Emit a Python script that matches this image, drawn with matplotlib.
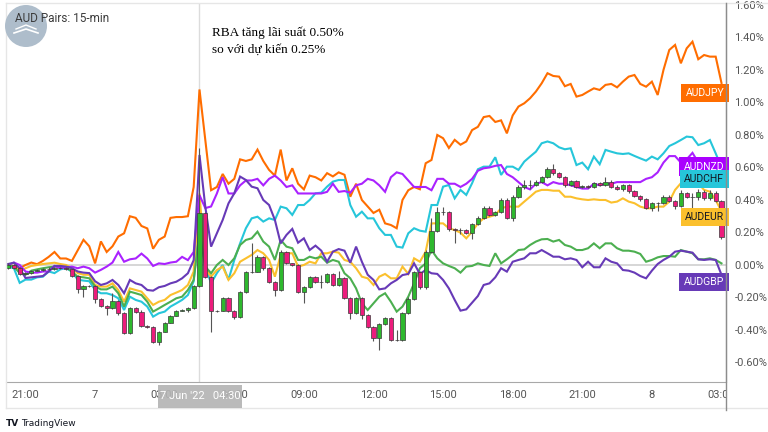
import numpy as np
import matplotlib
matplotlib.use("Agg")
import matplotlib.pyplot as plt
from matplotlib.patches import Circle, Rectangle
from matplotlib.lines import Line2D
from matplotlib.transforms import blended_transform_factory

# 15-min bars, bar 0 = 21:00 on 6 Jun, last bar = 03:00 on 8 Jun
bars = np.arange(-3, 121)

# AUDUSD candles (% change), open of each bar = close of the one before
usdFirstOpen = -0.02
usdClose = [
    0.0, -0.02, -0.055, -0.05, -0.035, -0.03, -0.025, -0.022, -0.02, -0.018,
    -0.027, -0.068, -0.15, -0.13, -0.13, -0.21, -0.25, -0.263, -0.22, -0.297,
    -0.42, -0.267, -0.287, -0.375, -0.38, -0.472, -0.41, -0.355, -0.312, -0.281,
    -0.277, -0.267, -0.13, 0.318, -0.072, -0.281, -0.281, -0.205, -0.281, -0.318,
    -0.164, -0.041, -0.041, 0.051, -0.021, -0.103, -0.154, 0.082, 0.01, 0.0,
    -0.164, -0.133, -0.072, -0.103, -0.103, -0.057, -0.123, -0.082, -0.205, -0.293,
    -0.205, -0.308, -0.379, -0.451, -0.363, -0.328, -0.462, -0.462, -0.297, -0.211,
    -0.041, -0.137, 0.082, 0.209, 0.324, 0.324, 0.219, 0.215, 0.215, 0.199,
    0.252, 0.287, 0.353, 0.308, 0.324, 0.40, 0.287, 0.42, 0.482, 0.49,
    0.49, 0.513, 0.54, 0.589, 0.564, 0.544, 0.492, 0.517, 0.482, 0.486,
    0.482, 0.503, 0.492, 0.513, 0.482, 0.466, 0.492, 0.455, 0.427, 0.404,
    0.353, 0.379, 0.384, 0.421, 0.396, 0.363, 0.441, 0.416, 0.42, 0.45,
    0.41, 0.445, 0.396, 0.17,
]
usdHigh = [
    0.01, 0.005, -0.015, -0.045, -0.03, -0.025, -0.02, -0.015, -0.012, -0.01,
    -0.012, -0.022, -0.06, -0.125, -0.125, -0.125, -0.205, -0.245, -0.174, -0.215,
    -0.29, -0.26, -0.26, -0.28, -0.37, -0.375, -0.405, -0.35, -0.305, -0.275,
    -0.27, -0.26, -0.125, 0.72, 0.325, -0.065, -0.275, -0.2, -0.2, -0.275,
    -0.16, -0.035, 0.133, 0.06, 0.055, -0.015, -0.1, 0.09, 0.085, 0.015,
    0.005, -0.13, -0.065, -0.065, -0.06, -0.05, -0.05, -0.04, -0.075, -0.2,
    -0.2, -0.2, -0.3, -0.375, -0.355, -0.32, -0.32, -0.40, -0.29, -0.2,
    -0.035, -0.035, 0.09, 0.287, 0.359, 0.359, 0.33, 0.225, 0.225, 0.22,
    0.26, 0.30, 0.36, 0.36, 0.33, 0.41, 0.41, 0.43, 0.49, 0.52,
    0.52, 0.52, 0.55, 0.60, 0.62, 0.575, 0.55, 0.525, 0.525, 0.495,
    0.49, 0.51, 0.51, 0.544, 0.52, 0.49, 0.50, 0.50, 0.46, 0.43,
    0.41, 0.39, 0.39, 0.43, 0.43, 0.40, 0.46, 0.45, 0.44, 0.47,
    0.46, 0.46, 0.455, 0.40,
]
usdLow = [
    -0.025, -0.025, -0.06, -0.06, -0.055, -0.04, -0.035, -0.03, -0.028, -0.026,
    -0.033, -0.075, -0.17, -0.195, -0.135, -0.236, -0.26, -0.31, -0.27, -0.305,
    -0.425, -0.425, -0.295, -0.38, -0.385, -0.48, -0.49, -0.415, -0.36, -0.315,
    -0.285, -0.29, -0.27, -0.135, -0.08, -0.41, -0.29, -0.285, -0.29, -0.33,
    -0.325, -0.17, -0.05, -0.045, -0.03, -0.11, -0.19, -0.16, 0.005, -0.005,
    -0.17, -0.236, -0.14, -0.11, -0.14, -0.11, -0.13, -0.13, -0.21, -0.33,
    -0.30, -0.33, -0.39, -0.47, -0.523, -0.37, -0.47, -0.47, -0.47, -0.30,
    -0.215, -0.15, -0.145, 0.075, 0.20, 0.31, 0.21, 0.137, 0.19, 0.19,
    0.16, 0.245, 0.28, 0.30, 0.30, 0.32, 0.28, 0.27, 0.415, 0.47,
    0.47, 0.485, 0.505, 0.535, 0.555, 0.535, 0.48, 0.485, 0.475, 0.475,
    0.475, 0.475, 0.485, 0.485, 0.475, 0.46, 0.455, 0.44, 0.42, 0.395,
    0.345, 0.33, 0.33, 0.375, 0.39, 0.345, 0.355, 0.41, 0.349, 0.40,
    0.40, 0.40, 0.39, 0.16,
]

# compared pairs (% change)
audjpy = [
    0.0, -0.01, -0.02, 0.0, 0.015, 0.005, 0.025, 0.05, 0.08, 0.04,
    0.04, 0.025, 0.09, 0.155, 0.115, 0.01, 0.145, 0.08, 0.115, 0.175,
    0.195, 0.30, 0.29, 0.24, 0.225, 0.10, 0.155, 0.175, 0.29, 0.295,
    0.295, 0.30, 0.48, 1.08, 0.77, 0.46, 0.48, 0.56, 0.50, 0.53,
    0.65, 0.64, 0.65, 0.71, 0.64, 0.585, 0.55, 0.71, 0.52, 0.595,
    0.50, 0.465, 0.55, 0.54, 0.52, 0.565, 0.545, 0.57, 0.555, 0.42,
    0.50, 0.40, 0.36, 0.32, 0.34, 0.256, 0.246, 0.226, 0.40, 0.46,
    0.48, 0.466, 0.626, 0.646, 0.80, 0.78, 0.72, 0.77, 0.74, 0.76,
    0.83, 0.85, 0.91, 0.917, 0.88, 0.89, 0.81, 0.92, 0.975, 0.995,
    1.026, 1.067, 1.118, 1.18, 1.163, 1.159, 1.10, 1.114, 1.036, 1.046,
    1.067, 1.087, 1.077, 1.108, 1.114, 1.093, 1.128, 1.159, 1.169, 1.114,
    1.097, 1.128, 1.046, 1.20, 1.323, 1.354, 1.241, 1.333, 1.374, 1.266,
    1.292, 1.282, 1.282, 1.12,
]
audnzd = [
    0.0, 0.015, 0.0, -0.04, -0.047, -0.047, -0.04, -0.04, -0.006, -0.02,
    -0.015, -0.01, -0.02, -0.01, -0.02, -0.047, -0.03, -0.01, 0.015, 0.08,
    0.02, 0.035, 0.04, 0.07, 0.04, -0.006, 0.01, 0.006, 0.015, 0.02,
    0.05, 0.03, 0.08, 0.43, 0.35, 0.36, 0.44, 0.54, 0.44, 0.44,
    0.49, 0.52, 0.52, 0.53, 0.49, 0.53, 0.55, 0.52, 0.48, 0.49,
    0.44, 0.44, 0.44, 0.44, 0.44, 0.45, 0.50, 0.45, 0.455, 0.445,
    0.49, 0.50, 0.53, 0.52, 0.49, 0.45, 0.54, 0.57, 0.56, 0.52,
    0.48, 0.48, 0.48, 0.46, 0.53, 0.53, 0.50, 0.50, 0.48, 0.50,
    0.53, 0.58, 0.595, 0.60, 0.61, 0.615, 0.56, 0.54, 0.51, 0.48,
    0.465, 0.50, 0.51, 0.49, 0.51, 0.50, 0.50, 0.49, 0.48, 0.47,
    0.47, 0.50, 0.49, 0.50, 0.50, 0.51, 0.51, 0.51, 0.51, 0.51,
    0.53, 0.54, 0.57, 0.63, 0.67, 0.67, 0.63, 0.65, 0.69, 0.63,
    0.64, 0.63, 0.63, 0.62,
]
audchf = [
    -0.01, -0.02, -0.11, -0.09, -0.09, -0.076, -0.072, -0.04, -0.05, -0.027,
    -0.02, -0.04, -0.09, -0.096, -0.10, -0.154, -0.174, -0.174, -0.185, -0.205,
    -0.277, -0.195, -0.215, -0.226, -0.256, -0.318, -0.297, -0.287, -0.256, -0.236,
    -0.215, -0.185, -0.10, 0.25, -0.01, -0.113, -0.05, 0.0, -0.09, 0.03,
    0.133, 0.226, 0.287, 0.297, 0.267, 0.287, 0.277, 0.359, 0.349, 0.308,
    0.369, 0.369, 0.40, 0.441, 0.445, 0.482, 0.513, 0.523, 0.523, 0.369,
    0.297, 0.328, 0.287, 0.287, 0.226, 0.185, 0.185, 0.113, 0.107, 0.195,
    0.226, 0.211, 0.205, 0.369, 0.369, 0.482, 0.492, 0.41, 0.462, 0.431,
    0.503, 0.589, 0.605, 0.605, 0.663, 0.554, 0.605, 0.605, 0.585, 0.636,
    0.667, 0.697, 0.749, 0.76, 0.749, 0.724, 0.712, 0.718, 0.615, 0.63,
    0.589, 0.667, 0.62, 0.708, 0.697, 0.687, 0.683, 0.687, 0.671, 0.656,
    0.642, 0.667, 0.65, 0.687, 0.732, 0.749, 0.769, 0.79, 0.786, 0.738,
    0.749, 0.769, 0.687, 0.60,
]
audeur = [
    0.0, -0.006, -0.04, -0.02, -0.006, 0.0, 0.006, 0.01, 0.014, 0.006,
    0.0, -0.02, -0.05, -0.06, -0.06, -0.123, -0.133, -0.133, -0.113, -0.154,
    -0.226, -0.144, -0.154, -0.164, -0.205, -0.246, -0.226, -0.215, -0.185, -0.17,
    -0.154, -0.123, -0.04, 0.44, -0.02, -0.072, -0.031, -0.01, -0.092, -0.051,
    0.02, 0.041, 0.062, 0.092, 0.072, 0.031, -0.072, 0.062, 0.072, 0.072,
    -0.01, 0.0, 0.02, 0.01, 0.072, 0.072, 0.082, 0.076, 0.031, 0.02,
    -0.02, -0.072, -0.082, -0.123, -0.072, -0.055, -0.082, -0.082, -0.01, -0.055,
    0.041, 0.02, 0.082, 0.256, 0.256, 0.256, 0.226, 0.215, 0.199, 0.164,
    0.205, 0.256, 0.287, 0.297, 0.308, 0.349, 0.359, 0.359, 0.359, 0.39,
    0.42, 0.451, 0.462, 0.462, 0.457, 0.457, 0.42, 0.42, 0.41, 0.404,
    0.40, 0.404, 0.40, 0.40, 0.384, 0.39, 0.41, 0.39, 0.38, 0.359,
    0.349, 0.349, 0.359, 0.359, 0.39, 0.462, 0.503, 0.503, 0.503, 0.503,
    0.462, 0.451, 0.40, 0.33,
]
# green pair, its label is hidden in the picture
greenPair = [
    0.0, -0.01, -0.05, -0.06, -0.035, -0.027, -0.02, -0.014, -0.01, -0.01,
    -0.014, -0.04, -0.072, -0.076, -0.082, -0.133, -0.15, -0.15, -0.133, -0.174,
    -0.256, -0.164, -0.174, -0.185, -0.226, -0.287, -0.267, -0.246, -0.226, -0.205,
    -0.195, -0.154, -0.092, 0.20, -0.01, -0.051, 0.0, 0.031, 0.0, 0.041,
    0.123, 0.154, 0.164, 0.205, 0.144, 0.113, 0.031, 0.154, 0.113, 0.103,
    0.031, 0.031, 0.051, 0.041, 0.051, 0.014, 0.031, 0.02, -0.051, -0.082,
    -0.144, -0.236, -0.277, -0.236, -0.195, -0.174, -0.226, -0.287, -0.256, -0.195,
    -0.113, -0.02, 0.01, 0.092, 0.041, 0.01, -0.006, -0.02, -0.047, -0.01,
    -0.006, 0.01, 0.0, -0.006, 0.072, 0.01, 0.035, 0.062, 0.092, 0.096,
    0.123, 0.144, 0.158, 0.16, 0.144, 0.154, 0.123, 0.113, 0.092, 0.092,
    0.103, 0.133, 0.103, 0.133, 0.133, 0.103, 0.088, 0.088, 0.082, 0.068,
    0.02, 0.031, 0.047, 0.055, 0.055, 0.051, 0.092, 0.082, 0.072, 0.035,
    0.035, 0.041, 0.031, 0.01,
]
audgbp = [
    0.006, 0.014, -0.02, -0.08, -0.076, -0.072, -0.068, -0.04, -0.006, -0.006,
    -0.01, -0.02, -0.04, -0.047, -0.05, -0.10, -0.123, -0.113, -0.092, -0.123,
    -0.174, -0.092, -0.113, -0.123, -0.154, -0.158, -0.137, -0.129, -0.113, -0.103,
    -0.082, -0.051, 0.03, 0.677, 0.36, 0.113, 0.195, 0.277, 0.379, 0.441,
    0.544, 0.523, 0.482, 0.472, 0.40, 0.369, 0.277, 0.133, 0.185, 0.222,
    0.137, 0.164, 0.092, 0.119, 0.088, 0.02, 0.082, 0.098, 0.088, 0.014,
    0.113, 0.02, -0.06, -0.092, -0.15, -0.144, -0.113, -0.092, -0.062, -0.055,
    0.01, -0.055, -0.031, -0.051, -0.055, -0.092, -0.144, -0.215, -0.281, -0.273,
    -0.232, -0.191, -0.123, -0.113, -0.076, -0.02, -0.041, 0.02, 0.031, 0.041,
    0.072, 0.072, 0.092, 0.072, 0.051, 0.051, 0.035, 0.041, 0.031, -0.014,
    0.02, -0.014, -0.014, 0.041, 0.02, 0.01, -0.031, -0.035, -0.047, -0.068,
    -0.082, -0.035, 0.006, 0.031, 0.051, 0.082, 0.088, 0.082, 0.076, 0.035,
    0.031, 0.035, 0.031, -0.06,
]

# label name, label position (%), box colour, text colour
pairLabels = [
    ("AUDJPY", 1.058, "#ff6d00", "white"),
    ("AUDNZD", 0.605, "#aa00ff", "white"),
    ("AUDCHF", 0.529, "#26c6da", "#131722"),
    ("AUDEUR", 0.295, "#fbc02d", "#131722"),
    ("AUDGBP", -0.105, "#673ab7", "white"),
]

tickBars = [0, 12, 24, 36, 48, 60, 72, 84, 96, 108, 120]
tickNames = ["21:00", "7", "03:00", "06:00", "09:00", "12:00", "15:00",
             "18:00", "21:00", "8", "03:00"]
yTicks = [-0.6, -0.4, -0.2, 0.0, 0.2, 0.4, 0.6, 0.8, 1.0, 1.2, 1.4, 1.6]

narrow = ["Liberation Sans Narrow", "Roboto", "DejaVu Sans"]
W, H = 768, 432

fig = plt.figure(figsize=(7.68, 4.32), dpi=100)
fig.patch.set_facecolor("white")
ax = fig.add_axes([6 / W, 1 - 382 / H, 720 / W, 379 / H])
ax.set_xlim(-3.36, 120.78)
ax.set_ylim(-0.72, 1.612)

ax.axhline(0, color="#cfcfcf", lw=1.2, zorder=1)
ax.axvline(30, color="#dcdcdc", lw=1.0, zorder=1)

lineStyle = [
    (audjpy, "#ff6d00"),
    (audchf, "#26c6da"),
    (audeur, "#fbc02d"),
    (greenPair, "#4caf50"),
    (audnzd, "#aa22ff"),
    (audgbp, "#673ab7"),
]
for vals, col in lineStyle:
    ax.plot(bars, vals, color=col, lw=1.5, zorder=2, solid_joinstyle="miter")

# candles
usdClose = np.array(usdClose)
usdOpen = np.concatenate([[usdFirstOpen], usdClose[:-1]])
upColor, downColor = "#2eb82e", "#ec1c7c"
colors = [upColor if c >= o else downColor for o, c in zip(usdOpen, usdClose)]
ax.vlines(bars, usdLow, usdHigh, color="#555555", lw=0.8, zorder=3)
ax.bar(bars, usdClose - usdOpen, bottom=usdOpen, width=0.72, color=colors,
       edgecolor="#3a3a3a", linewidth=0.5, zorder=4)

# right side labels
trans = blended_transform_factory(ax.transAxes, ax.transData)
for name, yPos, boxCol, txtCol in pairLabels:
    ax.text(0.9975, yPos, name, transform=trans, ha="right", va="center",
            fontsize=7.5, family=narrow, color=txtCol, zorder=6,
            bbox=dict(boxstyle="square,pad=0.42", fc=boxCol, ec="none"))

# axes styling
for side in ["left", "top"]:
    ax.spines[side].set_visible(False)
ax.spines["right"].set_color("#8c8c8c")
ax.spines["bottom"].set_color("#a8a8a8")
ax.yaxis.tick_right()
ax.set_yticks(yTicks)
ax.set_yticklabels([f"{v:.2f}%" for v in yTicks])
ax.set_xticks(tickBars)
ax.set_xticklabels(tickNames)
ax.tick_params(axis="both", length=0, labelsize=8, labelcolor="#555555")
ax.tick_params(axis="y", pad=6)
ax.tick_params(axis="x", pad=6)
for lab in ax.get_xticklabels() + ax.get_yticklabels():
    lab.set_family(narrow)

# frame lines around the chart
def pixLine(x0, y0, x1, y1, col, lw=1.0):
    fig.add_artist(Line2D([x0 / W, x1 / W], [1 - y0 / H, 1 - y1 / H],
                          color=col, lw=lw, zorder=8))

pixLine(6, 3, 6, 408, "#e6e6e6")
pixLine(6, 3, 768, 3, "#e6e6e6")
pixLine(6, 408, 768, 408, "#e6e6e6")
# price scale hides the last time label
fig.add_artist(Rectangle((726.5 / W, 1 - 407 / H), 41 / W, 24 / H,
                         transform=fig.transFigure, fc="white", ec="none", zorder=7))
pixLine(726, 3, 726, 410, "#8c8c8c")

# date label under the crosshair
fig.add_artist(Rectangle((158 / W, 1 - 408 / H), 84 / W, 23 / H,
                         transform=fig.transFigure, fc="#b4b4b4", ec="none",
                         alpha=0.92, zorder=9))
fig.text(200 / W, 1 - 396 / H, "7 Jun '22   04:30", ha="center", va="center",
         fontsize=8, family=narrow, color="white", zorder=10)

# logo (drawn in inches so it stays round) and title
fig.add_artist(Circle((0.26, 4.32 - 0.26), 0.21, transform=fig.dpi_scale_trans,
                      fc="#aebdcb", ec="none", zorder=9))
fig.add_artist(Line2D([14 / W, 26 / W, 38 / W], [1 - 33 / H, 1 - 29 / H, 1 - 33 / H],
                      color="white", lw=1.2, zorder=10))
fig.add_artist(Line2D([16 / W, 26 / W, 36 / W], [1 - 29 / H, 1 - 25 / H, 1 - 29 / H],
                      color="white", lw=1.0, zorder=10))
fig.text(15 / W, 1 - 19 / H, "AUD Pairs: 15-min", fontsize=8.5, family=narrow,
         color="#3c3c3c", va="center", zorder=11)

serif = ["Liberation Serif", "DejaVu Serif"]
fig.text(212 / W, 1 - 33 / H, "RBA tăng lãi suất 0.50%", fontsize=9.5,
         family=serif, color="black", va="center", zorder=11)
fig.text(212 / W, 1 - 50 / H, "so với dự kiến 0.25%", fontsize=9.5,
         family=serif, color="black", va="center", zorder=11)

# TradingView mark
fig.text(6 / W, 1 - 423 / H, "TV", fontsize=6.5, weight="bold", color="#131722",
         va="center", zorder=11)
fig.text(21 / W, 1 - 423 / H, "TradingView", fontsize=6.5, color="#131722",
         va="center", zorder=11)

fig.savefig("out.png", dpi=100)
